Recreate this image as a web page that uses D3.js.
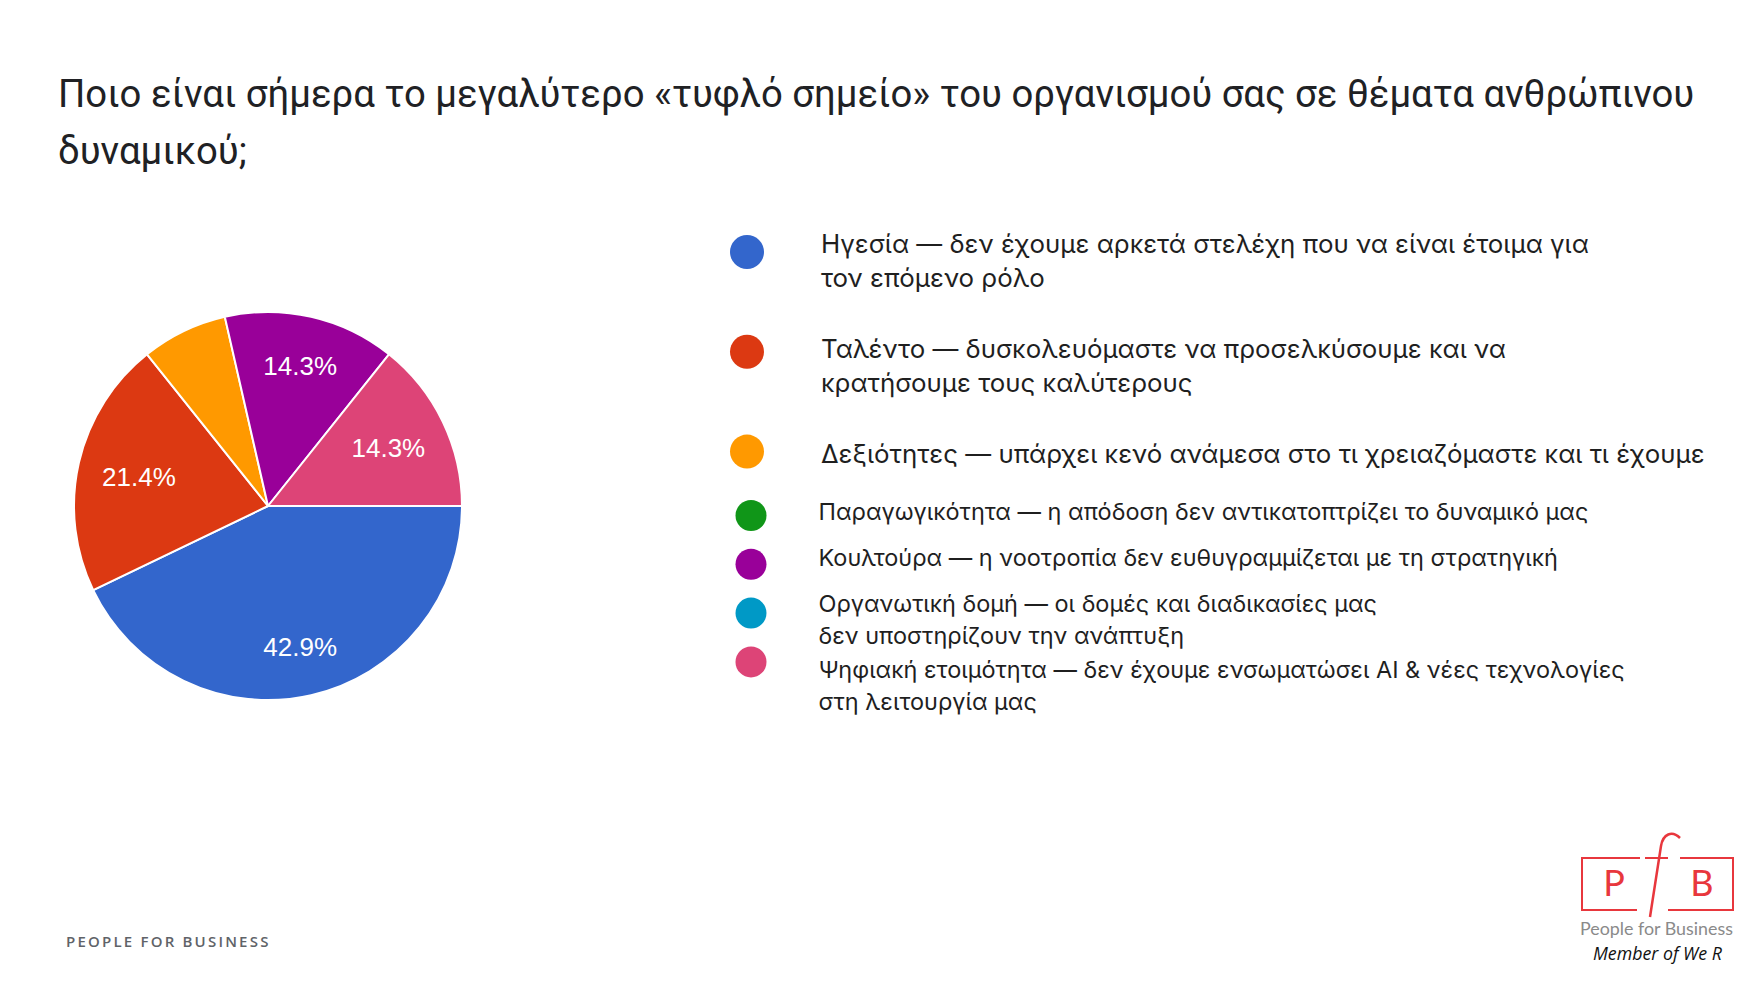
<!DOCTYPE html>
<html>
<head>
<meta charset="utf-8">
<script src="https://cdn.jsdelivr.net/npm/d3@7"></script>
<style>
  html, body { margin: 0; padding: 0; background: #fff; }
  svg { display: block; }
</style>
</head>
<body>
<svg id="chart" width="1757" height="982"></svg>
<script>
// ---- data ----
const titleLines = [
  "Ποιο είναι σήμερα το μεγαλύτερο «τυφλό σημείο» του οργανισμού σας σε θέματα ανθρώπινου",
  "δυναμικού;"
];
const categories = ["Ηγεσία", "Ταλέντο", "Δεξιότητες", "Παραγωγικότητα", "Κουλτούρα", "Οργανωτική δομή", "Ψηφιακή ετοιμότητα"];
const values = [6, 3, 1, 0, 2, 0, 2];
const colors = ["#3366cc", "#dc3912", "#ff9900", "#109618", "#990099", "#0099c6", "#dd4477"];
const legendLines = [
  ["Ηγεσία — δεν έχουμε αρκετά στελέχη που να είναι έτοιμα για", "τον επόμενο ρόλο"],
  ["Ταλέντο — δυσκολευόμαστε να προσελκύσουμε και να", "κρατήσουμε τους καλύτερους"],
  ["Δεξιότητες — υπάρχει κενό ανάμεσα στο τι χρειαζόμαστε και τι έχουμε"],
  ["Παραγωγικότητα — η απόδοση δεν αντικατοπτρίζει το δυναμικό μας"],
  ["Κουλτούρα — η νοοτροπία δεν ευθυγραμμίζεται με τη στρατηγική"],
  ["Οργανωτική δομή — οι δομές και διαδικασίες μας", "δεν υποστηρίζουν την ανάπτυξη"],
  ["Ψηφιακή ετοιμότητα — δεν έχουμε ενσωματώσει AI & νέες τεχνολογίες", "στη λειτουργία μας"]
];
const footerText = "PEOPLE FOR BUSINESS";

// ---- setup ----
const svg = d3.select("#chart");
svg.append("rect").attr("width", 1757).attr("height", 982).attr("fill", "#fff");

function fitGroup(nodes, refNode, targetW, baseSize) {
  const w = refNode.getComputedTextLength();
  const size = baseSize * targetW / w;
  nodes.forEach(n => d3.select(n).attr("font-size", size));
  return size;
}

// ---- title ----
const titleG = svg.append("g");
const titleTexts = titleG.selectAll("text").data(titleLines).join("text")
  .attr("x", 58)
  .attr("y", (d, i) => 107 + i * 57)
  .attr("font-family", "Roboto, 'Liberation Sans', Arial, sans-serif")
  .attr("font-size", 38)
  .attr("fill", "#202124")
  .text(d => d);
fitGroup(titleTexts.nodes(), titleTexts.nodes()[0], 1637, 38);

// ---- pie ----
const cx = 268, cy = 506, R = 194;
const total = d3.sum(values);
const pie = d3.pie().sort(null).value(d => d.value)
  .startAngle(Math.PI / 2).endAngle(Math.PI / 2 + 2 * Math.PI);
const data = categories.map((c, i) => ({ name: c, value: values[i], color: colors[i] }));
const arcs = pie(data);
const arc = d3.arc().innerRadius(0).outerRadius(R);
const pieG = svg.append("g").attr("transform", `translate(${cx},${cy})`);
pieG.selectAll("path").data(arcs.filter(a => a.data.value > 0)).join("path")
  .attr("d", arc)
  .attr("fill", d => d.data.color)
  .attr("stroke", "#fff")
  .attr("stroke-width", 2)
  .attr("stroke-linejoin", "round");

const fmt = d3.format(".1%");
pieG.selectAll("text").data(arcs.filter(a => a.data.value / total >= 0.1)).join("text")
  .attr("transform", d => {
    const mid = (d.startAngle + d.endAngle) / 2;
    const rl = 148 - 16 * Math.abs(Math.sin(mid));
    return `translate(${rl * Math.sin(mid)},${-rl * Math.cos(mid)})`;
  })
  .attr("text-anchor", "middle")
  .attr("dy", "0.36em")
  .attr("font-family", "'Liberation Sans', Arial, sans-serif")
  .attr("font-size", 26)
  .attr("fill", "#fff")
  .text(d => fmt(d.data.value / total));

// ---- legend ----
const legendFont = "Inter, 'Noto Sans', sans-serif";
const legG = svg.append("g");
const allA = [], allB = [];
let refA = null, refB = null;
let nextB = 519.6;
legendLines.forEach((lines, i) => {
  const inA = i < 3;
  const k = inA ? i : i - 3;
  const dotY = inA ? 252 + k * 99.8 : 515.5 + k * 48.8;
  let textY;
  if (inA) textY = 253 + k * 104.8;
  else { textY = nextB; }
  const lineH = inA ? 34 : 32.5;
  if (!inA) nextB = textY + (lines.length - 1) * lineH + (lines.length > 1 ? 33.5 : 46);
  const dotX = inA ? 747 : 751;
  const textX = inA ? 821 : 818.5;
  legG.append("circle")
    .attr("cx", dotX).attr("cy", dotY)
    .attr("r", inA ? 17 : 15.5)
    .attr("fill", colors[i]);
  lines.forEach((ln, j) => {
    const t = legG.append("text")
      .attr("x", textX).attr("y", textY + j * lineH)
      .attr("font-family", legendFont)
      .attr("font-size", inA ? 25 : 22)
      .attr("fill", "#1f1f1f")
      .text(ln);
    if (inA) allA.push(t.node()); else allB.push(t.node());
    if (i === 2 && j === 0) refA = t.node();
    if (i === 3 && j === 0) refB = t.node();
  });
});
fitGroup(allA, refA, 884, 25);
fitGroup(allB, refB, 770, 22);

// ---- footer ----
svg.append("text")
  .attr("x", 66).attr("y", 947)
  .attr("font-family", "'Open Sans', 'Noto Sans', sans-serif")
  .attr("font-weight", 600)
  .attr("font-size", 15)
  .attr("letter-spacing", 2.2)
  .attr("fill", "#5f6368")
  .text(footerText);

// ---- logo ----
const red = "#e8373d";
const logo = svg.append("g").attr("fill", "none").attr("stroke", red).attr("stroke-width", 2);
logo.append("path").attr("d", "M1640 858 H1582 V910 H1637");
logo.append("path").attr("d", "M1680 858 H1733 V910 H1668");
logo.append("path").attr("d", "M1680 838 C1672 830 1663 834 1661 846 L1650 917").attr("stroke-width", 2.5);
logo.append("path").attr("d", "M1645 858 H1668");
svg.append("text").attr("x", 1614).attr("y", 896).attr("text-anchor", "middle")
  .attr("font-family", "Lato, 'Open Sans', sans-serif").attr("font-size", 36)
  .attr("fill", red).text("P");
svg.append("text").attr("x", 1702).attr("y", 896).attr("text-anchor", "middle")
  .attr("font-family", "Lato, 'Open Sans', sans-serif").attr("font-size", 36)
  .attr("fill", red).text("B");
const pfb = svg.append("text").attr("x", 1580).attr("y", 935)
  .attr("font-family", "Lato, 'Open Sans', sans-serif").attr("font-size", 19)
  .attr("fill", "#8a8a8a").text("People for Business");
fitGroup([pfb.node()], pfb.node(), 153, 19);
const mem = svg.append("text").attr("x", 1593).attr("y", 960)
  .attr("font-family", "'Open Sans', Lato, sans-serif").attr("font-style", "italic").attr("font-size", 17)
  .attr("fill", "#111").text("Member of We R");
fitGroup([mem.node()], mem.node(), 129, 17);
</script>
</body>
</html>
